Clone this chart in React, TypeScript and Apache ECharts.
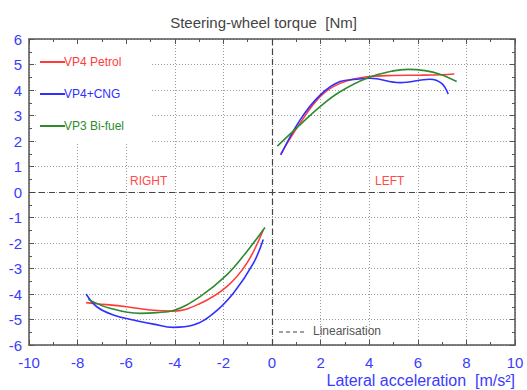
import React, { useEffect, useRef } from "react";
import * as echarts from "echarts";

const seriesNames = ["VP4 Petrol", "VP4+CNG", "VP3 Bi-fuel"];
const seriesColors = ["#ff3b3b", "#2f2fff", "#2e8b2e"];

const petrolLeft: [number, number][] = [
  [-7.65, -4.34], [-7.2, -4.38], [-5.98, -4.5], [-5.02, -4.63], [-4.06, -4.67],
  [-2.96, -4.37], [-1.86, -3.71], [-1.04, -2.8], [-0.36, -1.49],
];
const petrolRight: [number, number][] = [
  [0.36, 1.49], [1.15, 2.69], [1.98, 3.74], [2.8, 4.26], [3.9, 4.52],
  [5.0, 4.57], [6.09, 4.58], [7.0, 4.6], [7.5, 4.63],
];
const cngLeft: [number, number][] = [
  [-7.65, -4.0], [-7.21, -4.5], [-6.53, -4.82], [-5.71, -5.02], [-4.88, -5.18],
  [-4.06, -5.31], [-3.24, -5.22], [-2.41, -4.76], [-1.59, -3.97], [-0.77, -2.8], [-0.36, -1.86],
];
const cngRight: [number, number][] = [
  [0.36, 1.45], [1.15, 2.82], [1.98, 3.8], [2.8, 4.33], [3.48, 4.42], [4.03, 4.46],
  [5.27, 4.29], [6.5, 4.42], [6.98, 4.26], [7.25, 3.84],
];
const bifuelLeft: [number, number][] = [
  [-7.56, -4.21], [-6.67, -4.56], [-5.43, -4.76], [-4.74, -4.73], [-4.06, -4.65],
  [-2.96, -4.1], [-1.86, -3.25], [-1.04, -2.34], [-0.29, -1.39],
];
const bifuelRight: [number, number][] = [
  [0.22, 1.8], [1.15, 2.63], [1.98, 3.35], [2.8, 3.93], [3.9, 4.46],
  [4.99, 4.75], [5.6, 4.81], [6.3, 4.76], [6.91, 4.62], [7.6, 4.33],
];

const xTicks = { min: -10, max: 10, interval: 2 };
const yTicks = { min: -6, max: 6, interval: 1 };

const blue = "#3b3bff";
const axisDark = "#555";

export default function App() {
  const ref = useRef<HTMLDivElement>(null);
  useEffect(() => {
    if (!ref.current) return;
    const chart = echarts.init(ref.current, undefined, { renderer: "svg" });
    const sides = [
      [petrolLeft, petrolRight],
      [cngLeft, cngRight],
      [bifuelLeft, bifuelRight],
    ];
    const series: any[] = sides.map((s, i) => ({
      name: seriesNames[i],
      type: "line",
      smooth: 0.4,
      symbol: "none",
      showSymbol: false,
      connectNulls: false,
      z: 3,
      lineStyle: { color: seriesColors[i], width: 1.6 },
      itemStyle: { color: seriesColors[i] },
      data: [...s[0], [0, null], ...s[1]],
    }));
    series[0].markLine = {
      silent: true,
      symbol: "none",
      label: { show: false },
      lineStyle: { color: "#444", type: [6, 4], width: 1.2 },
      data: [{ xAxis: 0 }, { yAxis: 0 }],
      z: 2,
    };

    const axisCommon = {
      axisLine: { show: true, onZero: false, lineStyle: { color: axisDark, width: 1.5 } },
      axisTick: { show: true, inside: true, length: 5, lineStyle: { color: axisDark } },
      minorTick: { show: true, splitNumber: 2, length: 3, lineStyle: { color: axisDark } },
    };

    chart.setOption({
      animation: false,
      grid: { left: 29, right: 12, top: 39, bottom: 45 },
      title: {
        text: "Steering-wheel torque  [Nm]",
        left: "center",
        top: 10,
        textStyle: { fontFamily: "Arial, Liberation Sans", fontSize: 15, fontWeight: "normal", color: "#444" },
      },
      legend: {
        orient: "vertical",
        left: 35,
        top: 51,
        itemGap: 20,
        itemWidth: 25,
        itemHeight: 2,
        icon: "rect",
        data: seriesNames.map((n, i) => ({
          name: n,
          textStyle: { color: seriesColors[i] },
        })),
        textStyle: { fontFamily: "Arial, Liberation Sans", fontSize: 12, padding: [0, 0, 0, -6] },
      },
      xAxis: [
        {
          type: "value",
          ...xTicks,
          position: "bottom",
          ...axisCommon,
          axisLabel: { color: blue, fontSize: 15, fontFamily: "Arial, Liberation Sans", margin: 10 },
          splitLine: { show: true, lineStyle: { color: "#999", type: [1, 2] } },
        },
        {
          type: "value",
          ...xTicks,
          position: "top",
          ...axisCommon,
          axisLabel: { show: false },
          splitLine: { show: false },
        },
      ],
      yAxis: [
        {
          type: "value",
          ...yTicks,
          position: "left",
          ...axisCommon,
          axisLabel: { color: blue, fontSize: 15, fontFamily: "Arial, Liberation Sans", margin: 7 },
          splitLine: { show: true, lineStyle: { color: "#999", type: [1, 2] } },
        },
        {
          type: "value",
          ...yTicks,
          position: "right",
          ...axisCommon,
          axisLabel: { show: false },
          splitLine: { show: false },
        },
      ],
      graphic: [
        {
          type: "rect",
          z: 1,
          shape: { x: 37, y: 44, width: 115, height: 98 },
          style: { fill: "#fff" },
        },
        {
          type: "text",
          x: 130,
          y: 175,
          z: 5,
          style: { text: "RIGHT", fill: "#ff4b4b", font: "12px Arial, Liberation Sans" },
        },
        {
          type: "text",
          x: 375,
          y: 175,
          z: 5,
          style: { text: "LEFT", fill: "#ff4b4b", font: "12px Arial, Liberation Sans" },
        },
        {
          type: "line",
          z: 5,
          shape: { x1: 279, y1: 332, x2: 307, y2: 332 },
          style: { stroke: "#444", lineWidth: 1.2, lineDash: [4, 3] },
        },
        {
          type: "text",
          x: 313,
          y: 325,
          z: 5,
          style: { text: "Linearisation", fill: "#555", font: "12px Arial, Liberation Sans" },
        },
        {
          type: "text",
          right: 12,
          top: 372,
          z: 5,
          style: { text: "Lateral acceleration  [m/s²]", fill: blue, font: "16px Arial, Liberation Sans" },
        },
      ],
      series,
    });
    return () => chart.dispose();
  }, []);
  return <div ref={ref} style={{ width: 527, height: 390, position: "absolute", left: 0, top: 0 }} />;
}
